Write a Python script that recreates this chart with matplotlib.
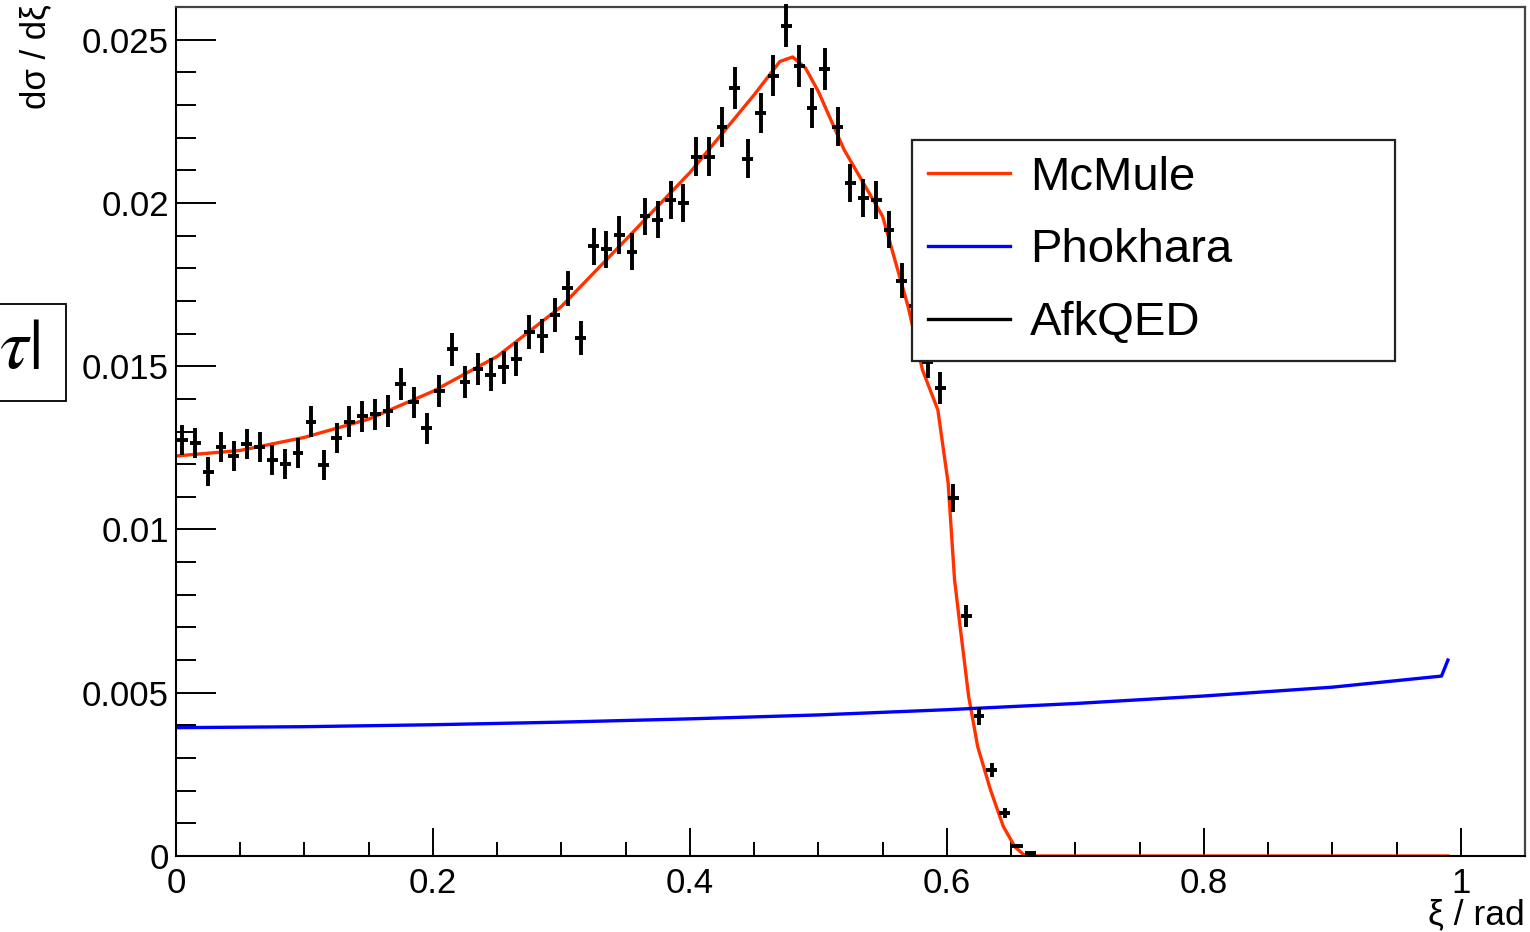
import matplotlib
matplotlib.use("Agg")
import matplotlib.pyplot as plt
from matplotlib.lines import Line2D
from matplotlib.patches import Rectangle
from matplotlib.ticker import MultipleLocator, FixedLocator, FixedFormatter

plt.rcParams["font.family"] = ["Liberation Sans", "DejaVu Sans"]

# AfkQED: binned MC points (bin width 0.01)
afk_x = [0.005, 0.015, 0.025, 0.035, 0.045, 0.055, 0.065, 0.075, 0.085, 0.095,
         0.105, 0.115, 0.125, 0.135, 0.145, 0.155, 0.165, 0.175, 0.185, 0.195,
         0.205, 0.215, 0.225, 0.235, 0.245, 0.255, 0.265, 0.275, 0.285, 0.295,
         0.305, 0.315, 0.325, 0.335, 0.345, 0.355, 0.365, 0.375, 0.385, 0.395,
         0.405, 0.415, 0.425, 0.435, 0.445, 0.455, 0.465, 0.475, 0.485, 0.495,
         0.505, 0.515, 0.525, 0.535, 0.545, 0.555, 0.565, 0.575, 0.585, 0.595,
         0.605, 0.615, 0.625, 0.635, 0.645, 0.655, 0.665]
afk_y = [0.01275, 0.01266, 0.01177, 0.01254, 0.01225, 0.01261, 0.01254, 0.01213, 0.01200, 0.01233,
         0.01330, 0.01198, 0.01281, 0.01330, 0.01346, 0.01353, 0.01363, 0.01446, 0.01389, 0.01310,
         0.01425, 0.01552, 0.01453, 0.01491, 0.01474, 0.01496, 0.01522, 0.01606, 0.01593, 0.01657,
         0.01739, 0.01586, 0.01867, 0.01858, 0.01902, 0.01851, 0.01959, 0.01949, 0.02010, 0.02001,
         0.02142, 0.02142, 0.02232, 0.02352, 0.02135, 0.02275, 0.02390, 0.02543, 0.02420, 0.02290,
         0.02410, 0.02234, 0.02061, 0.02015, 0.02010, 0.01918, 0.01762, 0.01683, 0.01514, 0.01433,
         0.01096, 0.00735, 0.00429, 0.00263, 0.00131, 0.00031, 0.00008]
afk_err = [0.00046, 0.00046, 0.00045, 0.00046, 0.00046, 0.00046, 0.00046, 0.00045, 0.00045, 0.00046,
           0.00047, 0.00045, 0.00046, 0.00047, 0.00048, 0.00048, 0.00048, 0.00049, 0.00048, 0.00047,
           0.00049, 0.00051, 0.00049, 0.00050, 0.00050, 0.00050, 0.00051, 0.00052, 0.00052, 0.00053,
           0.00054, 0.00052, 0.00056, 0.00056, 0.00057, 0.00056, 0.00057, 0.00057, 0.00058, 0.00058,
           0.00060, 0.00060, 0.00061, 0.00063, 0.00060, 0.00062, 0.00063, 0.00065, 0.00064, 0.00062,
           0.00064, 0.00061, 0.00059, 0.00058, 0.00058, 0.00057, 0.00054, 0.00053, 0.00050, 0.00049,
           0.00043, 0.00035, 0.00027, 0.00021, 0.00015, 0.00007, 0.00004]

# McMule curve
mcmule_x = [0.0, 0.05, 0.10, 0.15, 0.20, 0.25, 0.30, 0.35, 0.40, 0.45, 0.47, 0.48, 0.49,
            0.50, 0.52, 0.55, 0.57, 0.581, 0.593, 0.601, 0.606, 0.610, 0.617, 0.624,
            0.634, 0.644, 0.653, 0.661, 0.99]
mcmule_y = [0.01225, 0.01242, 0.01282, 0.01338, 0.01423, 0.01530, 0.01683, 0.01887, 0.02093,
            0.02331, 0.02433, 0.02447, 0.02413, 0.02341, 0.02163, 0.01959, 0.01680, 0.01489,
            0.01366, 0.01142, 0.00846, 0.00713, 0.00488, 0.00335, 0.00202, 0.00090, 0.00028,
            0.0, 0.0]

# Phokhara curve
phok_x = [0.0, 0.1, 0.2, 0.3, 0.4, 0.5, 0.6, 0.7, 0.8, 0.9, 0.985, 0.99]
phok_y = [0.00393, 0.00396, 0.00402, 0.00410, 0.00420, 0.00432, 0.00448, 0.00467,
          0.00490, 0.00517, 0.00551, 0.00600]

xtick_vals = [0, 0.2, 0.4, 0.6, 0.8, 1.0]
xtick_labels = ["0", "0.2", "0.4", "0.6", "0.8", "1"]
ytick_vals = [0, 0.005, 0.01, 0.015, 0.02, 0.025]
ytick_labels = ["0", "0.005", "0.01", "0.015", "0.02", "0.025"]

fig = plt.figure(figsize=(15.3, 9.32), dpi=100)
ax = fig.add_axes([176 / 1530, 1 - 856 / 932, 1349 / 1530, 849 / 932])

red, = ax.plot(mcmule_x, mcmule_y, color="#ff3300", lw=2.4, zorder=2)
blue, = ax.plot(phok_x, phok_y, color="#0000ff", lw=2.4, zorder=2)
ax.errorbar(afk_x, afk_y, yerr=afk_err, xerr=0.0042, fmt="none",
            ecolor="black", elinewidth=2.8, capsize=0, zorder=3, clip_on=False)

ax.set_xlim(0, 1.05)
ax.set_ylim(0, 0.026)

ax.xaxis.set_major_locator(FixedLocator(xtick_vals))
ax.xaxis.set_major_formatter(FixedFormatter(xtick_labels))
ax.xaxis.set_minor_locator(MultipleLocator(0.05))
ax.yaxis.set_major_locator(FixedLocator(ytick_vals))
ax.yaxis.set_major_formatter(FixedFormatter(ytick_labels))
ax.yaxis.set_minor_locator(MultipleLocator(0.001))

ax.tick_params(axis="both", which="both", direction="in", width=1.4,
               labelsize=25, top=False, right=False, colors="black")
ax.tick_params(axis="x", which="major", length=20, pad=8)
ax.tick_params(axis="x", which="minor", length=10)
ax.tick_params(axis="y", which="major", length=29, pad=5)
ax.tick_params(axis="y", which="minor", length=14.5)

for s in ["left", "bottom"]:
    ax.spines[s].set_linewidth(1.5)
for s in ["top", "right"]:
    ax.spines[s].set_linewidth(1.6)
    ax.spines[s].set_color("#444444")

fig.text(36 / 1530, 1 - 4 / 932, "dσ / dξ", rotation=90, ha="center", va="top", fontsize=25)
fig.text(1525 / 1530, 1 - 931 / 932, "ξ / rad", ha="right", va="bottom", fontsize=25.5)

leg = ax.legend([red, blue, Line2D([], [], color="black", lw=2.4)],
                ["McMule", "Phokhara", "AfkQED"],
                loc="upper left", bbox_to_anchor=(912 / 1530, 1 - 140 / 932, 483 / 1530, 0),
                bbox_transform=fig.transFigure, mode="expand", borderaxespad=0,
                fontsize=34, handlelength=1.75, handletextpad=0.42,
                labelspacing=0.61, borderpad=0.33, fancybox=False, framealpha=1)
leg.get_frame().set_edgecolor("#222222")
leg.get_frame().set_linewidth(1.6)
leg.set_zorder(5)

# cropped box from the slide at the left edge
fig.patches.append(Rectangle((-0.01, 1 - 401 / 932), 0.01 + 66 / 1530, 97 / 932,
                             transform=fig.transFigure, fill=False, edgecolor="black", lw=1.3))
fig.text(40 / 1530, 1 - 350 / 932, r"$\tau|$", ha="right", va="center",
         fontsize=52, math_fontfamily="stix")

fig.savefig("out.png", dpi=100)
